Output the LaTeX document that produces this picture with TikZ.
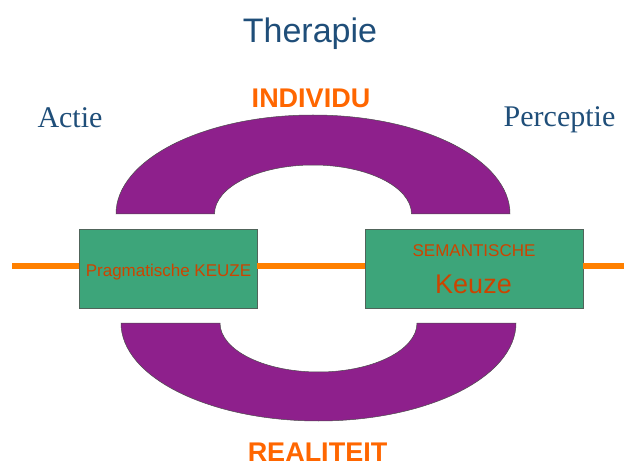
\documentclass[tikz,border=0pt]{standalone}
\usepackage{fontspec}
\setmainfont{Liberation Serif}
\setsansfont{Liberation Sans}
\definecolor{archpurple}{RGB}{142,32,140}
\definecolor{boxgreen}{RGB}{61,165,122}
\definecolor{boxline}{RGB}{80,100,90}
\definecolor{lineorange}{RGB}{255,128,0}
\definecolor{titleorange}{RGB}{255,102,0}
\definecolor{keuzered}{RGB}{204,68,0}
\definecolor{titleblue}{RGB}{31,78,121}
\tikzset{
  keuzebox/.style={draw=boxline, line width=0.6pt, fill=boxgreen, rectangle, inner sep=0pt},
  arch/.style={draw=black!70, line width=0.5pt, fill=archpurple},
  wire/.style={draw=lineorange, line width=6pt},
  boxtext/.style={text=keuzered, anchor=base, inner sep=0pt, font=\sffamily\fontsize{17}{20}\selectfont},
  bigword/.style={text=titleorange, anchor=base, inner sep=0pt, font=\sffamily\bfseries\fontsize{27}{30}\selectfont},
  sideword/.style={text=titleblue, anchor=base, inner sep=0pt, font=\rmfamily\fontsize{30}{34}\selectfont}
}
\begin{document}
\begin{tikzpicture}[x=1pt, y=1pt]
    \useasboundingbox (0,0) rectangle (624,464);

    % boven- en onderboog
    \path[arch] (116,250) arc (180:0:197 and 99) -- (411.5,250) arc (0:180:98.5 and 49) -- cycle;
    \path[arch] (121,141) arc (180:360:197.5 and 98) -- (417,141) arc (360:180:98.5 and 49) -- cycle;

    \coordinate (L) at (12,198);
    \coordinate (R) at (624,198);

    \node[keuzebox, minimum width=178, minimum height=79] (P) at (168,195.5) {};
    \node[keuzebox, minimum width=218, minimum height=79] (S) at (474,195.5) {};

    \draw[wire] (L) -- (P.west |- L);
    \draw[wire] (P.east |- L) -- (S.west |- L);
    \draw[wire] (S.east |- L) -- (R);

    \node[boxtext] (pk) at (168.5,187) {Pragmatische KEUZE};
    \node[boxtext] (sk) at (474,207) {SEMANTISCHE};
    \node[boxtext, font=\sffamily\fontsize{27}{30}\selectfont] (kz) at (473.5,171) {Keuze};

    \node[text=titleblue, anchor=base, inner sep=0pt, font=\sffamily\fontsize{34}{38}\selectfont] (T) at (310,421) {Therapie};
    \node[bigword] (I) at (311,356) {INDIVIDU};
    \node[bigword] (Re) at (317.5,3) {REALITEIT};
    \node[sideword] (A) at (70,336) {Actie};
    \node[sideword] (Pc) at (559.5,337) {Perceptie};
\end{tikzpicture}
\end{document}
